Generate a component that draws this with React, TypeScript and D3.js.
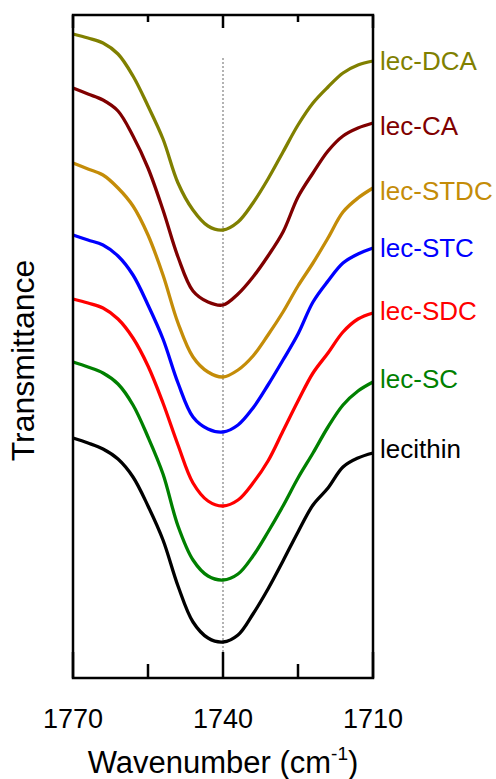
// FTIR spectra of lecithin with bile salts — C=O stretching region, stacked curves
import React, { useEffect, useRef } from 'react';
import * as d3 from 'd3';

// wavenumber grid (cm-1)
const wavenumbers = [1770, 1767, 1764, 1761, 1758, 1755, 1752, 1749, 1746, 1743, 1740, 1737, 1734, 1731, 1728, 1725, 1722, 1719, 1716, 1713, 1710];

const seriesNames = ['lec-DCA', 'lec-CA', 'lec-STDC', 'lec-STC', 'lec-SDC', 'lec-SC', 'lecithin'];

// transmittance, arbitrary units (curves offset)
const lecDCA = [128.8, 128, 127, 124.8, 120.4, 114.4, 107.8, 99, 93.6, 90.4, 89.6, 91.2, 95, 99.8, 105.2, 110.6, 115, 118.2, 121, 122.6, 123.4];
const lecCA = [118, 116.8, 115.6, 113.4, 108.4, 102, 93.6, 84.2, 77.4, 75.2, 74.6, 76.8, 80.2, 84.4, 89.2, 96.2, 101, 105.4, 108.4, 110, 111];
const lecSTDC = [103, 101.8, 100.6, 98, 94.4, 88.6, 80.6, 71, 64.2, 61.2, 60.2, 61.6, 64.4, 68.6, 73.2, 78.4, 83, 88, 93.2, 96, 98];
const lecSTC = [88.6, 87.6, 86.6, 84.4, 80.6, 74.6, 67.8, 59, 52.2, 49.8, 49.2, 50.6, 54, 58.6, 63.6, 68.8, 75.2, 79.4, 83, 84.8, 86];
const lecSDC = [75.8, 75, 74, 71.8, 68, 62.4, 55, 46.6, 39, 35.4, 34.4, 35.6, 39, 43.4, 49.4, 55.4, 61, 65, 69.2, 71.8, 73];
const lecSC = [63.2, 62.2, 61, 58.8, 54.6, 48.2, 40.8, 30.4, 23.6, 20.4, 19.6, 20.8, 24.4, 29.2, 34.4, 40, 45, 50.2, 54.6, 57.4, 59.2];
const lecithin = [48, 47, 45.8, 43.8, 40.2, 34.4, 27.6, 18.4, 11.2, 8, 7.2, 8.6, 12.8, 17.8, 23.4, 29.2, 34.6, 38, 42.2, 44, 45];

const seriesValues = [lecDCA, lecCA, lecSTDC, lecSTC, lecSDC, lecSC, lecithin];
const seriesColors = ['#808000', '#800000', '#c48c08', '#0000ff', '#ff0000', '#008000', '#000000'];
// small vertical nudge of each end label (px)
const labelNudge = [1, 4, 4, 1, -1, -2, -3];

const majorTicks = [1770, 1740, 1710];
const minorTicks = [1755, 1725];
const markerWavenumber = 1740;
const markerRange = [5.2, 124];

const FONT = '"Liberation Sans", Arial, Helvetica, sans-serif';

const App: React.FC = () => {
  const svgRef = useRef<SVGSVGElement>(null);

  useEffect(() => {
    if (!svgRef.current) return;
    const svg = d3.select(svgRef.current);
    svg.selectAll('*').remove();

    const width = 496;
    const height = 779;
    const margin = { top: 15, right: 123, bottom: 101, left: 73 };
    const innerW = width - margin.left - margin.right;
    const innerH = height - margin.top - margin.bottom;

    svg.attr('width', width).attr('height', height).attr('viewBox', `0 0 ${width} ${height}`);

    const g = svg.append('g').attr('transform', `translate(${margin.left},${margin.top})`);

    const x = d3.scaleLinear().domain([1770, 1710]).range([0, innerW]);
    const y = d3.scaleLinear().domain([0, innerH / 5]).range([innerH, 0]);

    // dotted marker line at 1740
    g.append('line')
      .attr('x1', x(markerWavenumber))
      .attr('x2', x(markerWavenumber))
      .attr('y1', y(markerRange[0]))
      .attr('y2', y(markerRange[1]))
      .attr('stroke', '#9a9a9a')
      .attr('stroke-width', 1.5)
      .attr('stroke-dasharray', '2 2');

    // curves
    const line = d3.line<number>()
      .x((_, i) => x(wavenumbers[i]))
      .y((d) => y(d))
      .curve(d3.curveCatmullRom.alpha(0.5));

    seriesValues.forEach((vals, i) => {
      g.append('path')
        .datum(vals)
        .attr('fill', 'none')
        .attr('stroke', seriesColors[i])
        .attr('stroke-width', 3.3)
        .attr('stroke-linejoin', 'round')
        .attr('d', line);

      // label at right end
      g.append('text')
        .attr('x', innerW + 7)
        .attr('y', y(vals[vals.length - 1]) + labelNudge[i])
        .attr('dy', '0.32em')
        .attr('fill', seriesColors[i])
        .attr('font-family', FONT)
        .attr('font-size', 26)
        .text(seriesNames[i]);
    });

    // frame
    g.append('rect')
      .attr('width', innerW)
      .attr('height', innerH)
      .attr('fill', 'none')
      .attr('stroke', '#000')
      .attr('stroke-width', 2.5);

    // ticks: bottom ones are longer than top ones
    const ticks = g.append('g').attr('stroke', '#000').attr('stroke-width', 2.5);
    [...majorTicks, ...minorTicks].forEach((t) => {
      const major = majorTicks.includes(t);
      ticks.append('line')
        .attr('x1', x(t)).attr('x2', x(t))
        .attr('y1', innerH).attr('y2', innerH - (major ? 26 : 14));
      ticks.append('line')
        .attr('x1', x(t)).attr('x2', x(t))
        .attr('y1', 0).attr('y2', major ? 13 : 7);
    });

    g.append('g')
      .selectAll('text')
      .data(majorTicks)
      .enter()
      .append('text')
      .attr('x', (d) => x(d))
      .attr('y', innerH + 50)
      .attr('text-anchor', 'middle')
      .attr('font-family', FONT)
      .attr('font-size', 27)
      .text((d) => d);

    // axis titles
    const xTitle = g.append('text')
      .attr('x', innerW / 2)
      .attr('y', innerH + 95)
      .attr('text-anchor', 'middle')
      .attr('font-family', FONT)
      .attr('font-size', 31);
    xTitle.append('tspan').text('Wavenumber (cm');
    xTitle.append('tspan').attr('font-size', 19).attr('dy', -13).text('-1');
    xTitle.append('tspan').attr('dy', 13).text(')');

    g.append('text')
      .attr('transform', `translate(${-39},${innerH / 2 + 14}) rotate(-90)`)
      .attr('text-anchor', 'middle')
      .attr('font-family', FONT)
      .attr('font-size', 32)
      .text('Transmittance');
  }, []);

  return (
    <div style={{ position: 'absolute', left: 0, top: 0 }}>
      <svg ref={svgRef} style={{ display: 'block' }} />
    </div>
  );
};

export default App;
